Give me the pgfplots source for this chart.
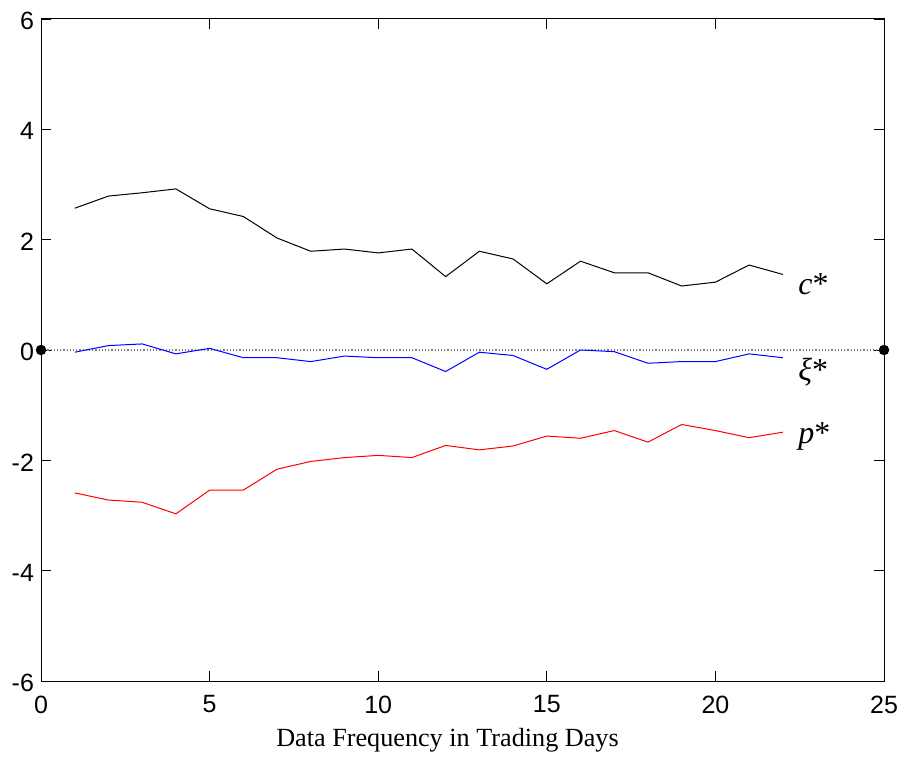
\documentclass[border=0pt]{standalone}
\usepackage{fontspec}
\setmainfont{Liberation Serif}
\newfontfamily\ticksfont{Liberation Sans}
\usepackage{pgfplots}
\pgfplotsset{compat=1.18}

\begin{document}
\begin{tikzpicture}
% 1px of the reference = 0.5pt
\useasboundingbox (-20.5pt,-40pt) rectangle (431.5pt,340.5pt);
\begin{axis}[
    scale only axis,
    width=421.5pt, height=331pt,
    at={(0,0)}, anchor=south west,
    xmin=0, xmax=25, ymin=-6, ymax=6,
    xtick={0,5,...,25}, ytick={-6,-4,...,6},
    tick align=inside, major tick length=5pt,
    xtick pos=both, ytick pos=both,
    tick style={black, line width=0.4pt},
    axis line style={black, line width=0.5pt},
    tick label style={font=\ticksfont\fontsize{12.5}{13}\selectfont},
    /pgf/number format/assume math mode=true,
    xticklabel style={anchor=north, yshift=-3.8pt},
    yticklabel style={anchor=east, xshift=0pt, yshift=-1pt},
    xlabel={Data Frequency in Trading Days},
    xlabel style={font=\fontsize{13.1}{14}\selectfont, at={(axis description cs:0.5,0)},
        anchor=base, inner sep=0pt, xshift=-7.5pt, yshift=-32.5pt},
    clip=false,
]
% zero reference line with end dots
\addplot[gray, densely dotted, line width=0.6pt, mark=*, mark size=2.3pt,
    mark options={solid, fill=black, draw=black}] coordinates {(0,0) (25,0)};

% c*
\addplot[black, line width=0.5pt] coordinates {
    (1,2.57)(2,2.79)(3,2.85)(4,2.92)(5,2.56)(6,2.42)(7,2.03)(8,1.79)(9,1.83)(10,1.76)(11,1.83)
    (12,1.33)(13,1.79)(14,1.65)(15,1.20)(16,1.61)(17,1.40)(18,1.40)(19,1.16)(20,1.23)(21,1.54)(22,1.37)
};
% xi*
\addplot[blue, line width=0.5pt] coordinates {
    (1,-0.04)(2,0.08)(3,0.11)(4,-0.07)(5,0.03)(6,-0.14)(7,-0.14)(8,-0.21)(9,-0.11)(10,-0.14)(11,-0.14)
    (12,-0.39)(13,-0.04)(14,-0.10)(15,-0.35)(16,0.00)(17,-0.03)(18,-0.24)(19,-0.21)(20,-0.21)(21,-0.07)(22,-0.14)
};
% p*
\addplot[red, line width=0.5pt] coordinates {
    (1,-2.59)(2,-2.72)(3,-2.76)(4,-2.97)(5,-2.54)(6,-2.54)(7,-2.16)(8,-2.02)(9,-1.95)(10,-1.91)(11,-1.95)
    (12,-1.73)(13,-1.81)(14,-1.74)(15,-1.56)(16,-1.60)(17,-1.46)(18,-1.67)(19,-1.35)(20,-1.46)(21,-1.59)(22,-1.49)
};

\node[anchor=base west, inner sep=0pt, font=\fontsize{16}{17}\selectfont] at (axis cs:22.45,1.0) {\textit{c}*};
\node[anchor=base west, inner sep=0pt, font=\fontsize{16}{17}\selectfont] at (axis cs:22.45,-0.56) {\textit{ξ}*};
\node[anchor=base west, inner sep=0pt, font=\fontsize{16}{17}\selectfont] at (axis cs:22.45,-1.69) {\textit{p}*};
\end{axis}
\end{tikzpicture}
\end{document}
